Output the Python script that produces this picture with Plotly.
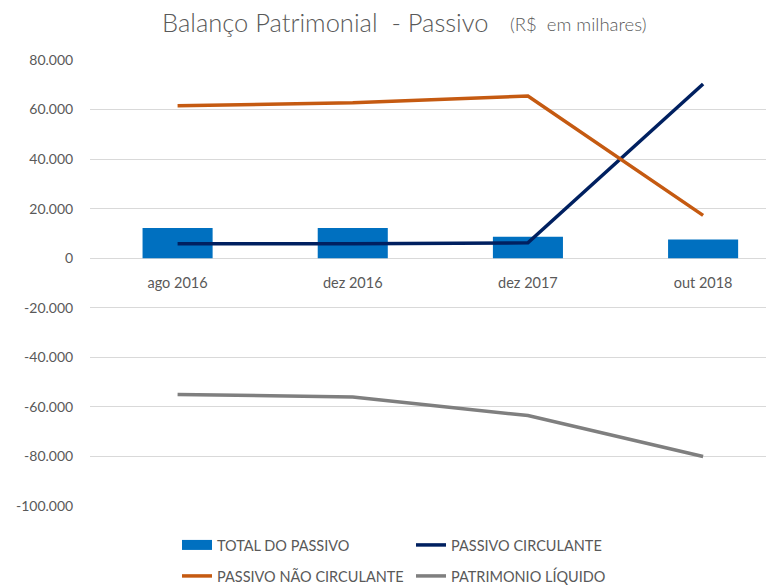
import plotly.graph_objects as go

categories = ["ago 2016", "dez 2016", "dez 2017", "out 2018"]
total_passivo = [12200, 12200, 8700, 7600]
passivo_circulante = [5800, 5800, 6200, 70300]
passivo_nao_circulante = [61500, 62700, 65500, 17300]
patrimonio_liquido = [-55000, -56000, -63500, -80000]
y_ticks = [80000, 60000, 40000, 20000, 0, -20000, -40000, -60000, -80000, -100000]
y_tick_text = ["{:,}".format(v).replace(",", ".") for v in y_ticks]

FONT = "Lato"
GRAY = "#595959"
xs = list(range(len(categories)))

fig = go.Figure()
fig.add_trace(go.Bar(x=xs, y=total_passivo, name="TOTAL DO PASSIVO",
                     marker=dict(color="#0070C0", line=dict(width=0)), width=0.4,
                     showlegend=False))
# legend swatch for the bar series (wide rectangle like the original)
fig.add_trace(go.Scatter(x=[None], y=[None], mode="lines", name="TOTAL DO PASSIVO",
                         line=dict(color="#0070C0", width=10), legend="legend"))
fig.add_trace(go.Scatter(x=xs, y=passivo_circulante, mode="lines", name="PASSIVO CIRCULANTE",
                         line=dict(color="#002060", width=3.5), legend="legend"))
fig.add_trace(go.Scatter(x=xs, y=passivo_nao_circulante, mode="lines", name="PASSIVO NÃO CIRCULANTE",
                         line=dict(color="#C55A11", width=3.5), legend="legend2"))
fig.add_trace(go.Scatter(x=xs, y=patrimonio_liquido, mode="lines", name="PATRIMONIO LÍQUIDO",
                         line=dict(color="#7F7F7F", width=3.5), legend="legend2"))

# the page adds an 8px body margin, so the figure is laid out in page coords minus 8
OFF = 8
W, H = 774 - OFF, 585 - OFF
top, bottom, left = 60 - OFF, 506.5 - OFF, 89.5 - OFF
zero_pos = (bottom - (258.5 - OFF)) / (bottom - top)
plot_w, plot_h = W - left, bottom - top

legend_common = dict(orientation="h", xref="container", yref="container",
                     x=169 / W, xanchor="left", yanchor="middle",
                     font=dict(family=FONT, size=14.5, color=GRAY),
                     entrywidth=189, entrywidthmode="pixels",
                     bgcolor="rgba(0,0,0,0)", itemclick=False)

fig.update_layout(
    width=W, height=H,
    margin=dict(l=left, r=0, t=top, b=H - bottom, pad=0, autoexpand=False),
    paper_bgcolor="white", plot_bgcolor="white",
    font=dict(family=FONT, color=GRAY),
    title=dict(text="Balanço Patrimonial&nbsp; - Passivo",
               xref="container", yref="container", x=(162 - OFF) / W, xanchor="left",
               y=1 - 6 / H, yanchor="top", pad=dict(t=0, b=0, l=0, r=0),
               font=dict(family=FONT, size=25.5, color=GRAY, weight=300)),
    annotations=[dict(text="(R$&nbsp; em milhares)", showarrow=False,
                      xref="paper", yref="paper",
                      x=(508 - OFF - left) / plot_w, xanchor="left",
                      y=(bottom - (24 - OFF)) / plot_h, yanchor="middle",
                      font=dict(family=FONT, size=18.5, color=GRAY, weight=300))],
    legend=dict(**legend_common, y=1 - 537 / H),
    legend2=dict(**legend_common, y=1 - 568 / H),
    showlegend=True,
    bargap=0.6,
)
fig.update_xaxes(
    tickmode="array", tickvals=xs, ticktext=categories,
    range=[-0.5, -0.5 + plot_w / 175.3],
    anchor="free", position=zero_pos,
    showgrid=False, showline=False, zeroline=False,
    ticks="outside", ticklen=11, tickcolor="rgba(0,0,0,0)",
    tickfont=dict(family=FONT, size=14.5, color=GRAY),
)
fig.update_yaxes(
    range=[-100000, 80000], tickmode="array", tickvals=y_ticks, ticktext=y_tick_text,
    showgrid=True, gridcolor="#D9D9D9", gridwidth=1,
    zeroline=True, zerolinecolor="#D9D9D9", zerolinewidth=1,
    showline=False, ticks="outside", ticklen=13, tickcolor="rgba(0,0,0,0)",
    tickfont=dict(family=FONT, size=14, color=GRAY),
)
fig.write_html("out.html")
